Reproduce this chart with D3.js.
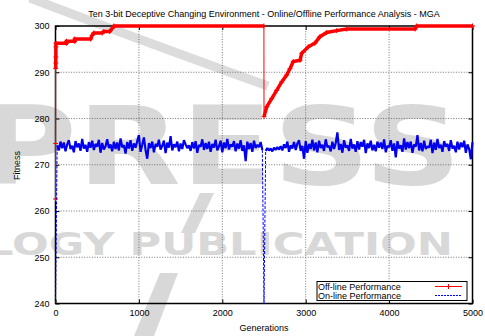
<!DOCTYPE html>
<html>
<head>
<meta charset="utf-8">
<script src="https://cdn.jsdelivr.net/npm/d3@7"></script>
<style>
  body { margin: 0; background: #fff; }
  svg { display: block; font-family: "Liberation Sans", Arial, sans-serif; }
</style>
</head>
<body>
<svg width="485" height="336"></svg>
<script>
// off-line performance (best so far), breakpoints
var offGen = [0, 1, 2, 3, 4, 5, 6, 130, 132, 230, 232, 420, 440, 460, 560, 580, 650, 680, 700, 2499,
  2500, 2532, 2592, 2652, 2712, 2772, 2812, 2851, 2932, 2952, 3031, 3111, 3171, 3252, 3372, 3492, 4311, 4331, 5000];
var offVal = [262.6, 274.6, 290.8, 292.0, 293.3, 295.5, 296.25, 296.25, 296.7, 296.7, 297.2, 297.2, 298.0, 298.5, 298.5, 298.8, 298.8, 299.5, 300, 300,
  280.4, 282.5, 284.3, 286.1, 287.9, 289.4, 290.8, 292.3, 292.6, 294.1, 295.5, 296.3, 297.7, 298.6, 299.0, 299.35, 299.35, 300, 300];

// on-line performance, one value every 20 generations (0 .. 5000)
var onStep = 20;
var onVal = [240,
  274.2, 273.1, 275.0, 273.6, 274.8, 272.9, 274.4, 275.3, 273.4, 274.1,
  272.7, 275.1, 273.8, 274.6, 273.0, 275.6, 273.5, 274.3, 272.8, 274.9,
  273.7, 275.2, 273.2, 274.5, 273.9, 275.4, 272.6, 274.7, 273.3, 274.0,
  275.5, 273.6, 274.4, 272.9, 275.0, 273.4, 274.8, 273.1, 275.7, 273.8,
  274.2, 272.4, 274.9, 273.5, 275.3, 273.0, 274.6, 273.7, 275.1, 276.4,
  272.8, 274.3, 275.9, 273.2, 271.3, 274.7, 273.6, 275.0, 272.7, 274.5,
  273.9, 275.4, 273.3, 274.1, 275.2, 272.5, 274.8, 273.7, 276.2, 273.1,
  274.4, 273.8, 275.0, 272.9, 274.6, 273.4, 275.3, 274.4, 273.6, 274.2,
  273.0, 274.9, 273.5, 275.1, 272.6, 274.3, 273.9, 275.5, 273.2, 274.7,
  273.4, 275.0, 272.8, 274.5, 273.7, 275.4, 273.1, 274.0, 275.2, 272.7,
  274.8, 273.6, 275.6, 273.3, 274.4, 273.9, 275.1, 272.9, 274.6, 273.5,
  275.3, 273.0, 274.2, 270.8, 275.0, 273.4, 274.7, 272.8, 275.2, 273.6,
  274.3, 273.8, 274.9, 273.2,
  240,
  273.0, 273.6, 273.1, 273.5, 272.9, 273.7, 273.2, 273.8, 273.3, 274.0,
  273.1, 274.4, 273.6, 275.0, 272.8, 274.2, 273.5, 274.9, 273.2, 274.6,
  275.3, 273.0, 274.1, 271.3, 275.1, 272.6, 274.5, 273.4, 275.4, 273.1,
  274.8, 272.7, 275.2, 273.6, 274.3, 273.0, 275.5, 273.8, 274.1, 272.9,
  275.0, 273.4, 274.7, 277.0, 273.2, 274.5, 272.6, 275.3, 273.7, 274.2,
  273.0, 275.6, 273.5, 274.4, 272.8, 275.1, 273.3, 274.9, 273.9, 275.4,
  272.5, 274.6, 273.6, 275.2, 273.1, 274.3, 272.9, 275.0, 273.7, 274.8,
  273.4, 275.5, 272.7, 274.1, 273.8, 275.3, 273.0, 274.6, 271.6, 275.1,
  273.5, 274.2, 272.8, 275.7, 273.3, 274.9, 273.6, 275.0, 272.6, 274.4,
  273.9, 276.4, 273.1, 274.7, 272.9, 275.2, 273.4, 274.0, 273.7, 275.4,
  272.5, 274.8, 273.2, 275.6, 273.6, 274.3, 272.8, 275.1, 273.9, 274.5,
  273.0, 275.3, 273.5, 274.1, 272.7, 275.0, 273.3, 274.8, 273.8, 275.2,
  272.6, 274.4, 273.4, 271.2, 274.9];

var xTicks = [0, 1000, 2000, 3000, 4000, 5000];
var yTicks = [240, 250, 260, 270, 280, 290, 300];
var seriesNames = ["Off-line Performance", "On-line Performance"];

var svg = d3.select("svg"),
  plotL = 55.5, plotR = 472.5, plotT = 26, plotB = 303.5;

var x = d3.scaleLinear().domain([0, 5000]).range([plotL, plotR]);
var y = d3.scaleLinear().domain([240, 300]).range([plotB, plotT]);

// faint publisher watermark in the background
var wm = svg.append("g").attr("fill", "#d8d8d8").attr("stroke", "none");
wm.append("path")
  .attr("d", "M30,-2 Q140,40 268,86")
  .attr("fill", "none").attr("stroke", "#dcdcdc").attr("stroke-width", 9);
wm.append("text")
  .attr("transform", "translate(-22,184) scale(1.25,1)")
  .attr("font-family", "DejaVu Sans").attr("font-weight", "bold")
  .attr("font-size", 108)
  .text("PRESS");
wm.append("text")
  .attr("transform", "translate(-14,255) scale(1.35,1)")
  .attr("font-family", "DejaVu Sans").attr("font-weight", "bold")
  .attr("font-size", 32)
  .text("LOGY PUBLICATION");
wm.append("path").attr("d", "M200,193 L214,193 L195,233 L181,233 Z");
wm.append("path").attr("d", "M160,273 L178,273 L154,336 L134,336 Z");

// grid
var grid = svg.append("g")
  .attr("stroke", "#555").attr("stroke-width", 0.8).attr("stroke-dasharray", "1,1.6");
grid.selectAll(".gx").data(xTicks.slice(1, -1)).enter().append("line")
  .attr("x1", function(d) { return x(d) }).attr("x2", function(d) { return x(d) })
  .attr("y1", plotT).attr("y2", plotB);
grid.selectAll(".gy").data(yTicks.slice(1, -1)).enter().append("line")
  .attr("x1", plotL).attr("x2", plotR)
  .attr("y1", function(d) { return y(d) }).attr("y2", function(d) { return y(d) });

// axes with inward ticks, mirrored on top and right
function styleAxis(g) {
  g.select(".domain").remove();
  g.selectAll("text").attr("font-size", 9).attr("fill", "#000").attr("font-family", "Liberation Sans, Arial, sans-serif");
  g.selectAll("line").attr("stroke", "#000");
}
svg.append("g").attr("transform", "translate(" + plotL + ",0)")
  .call(d3.axisLeft(y).tickValues(yTicks).tickSize(-4).tickPadding(6)).call(styleAxis);
svg.append("g").attr("transform", "translate(" + plotR + ",0)")
  .call(d3.axisRight(y).tickValues(yTicks).tickSize(-4).tickFormat("")).call(styleAxis);
svg.append("g").attr("transform", "translate(0," + plotB + ")")
  .call(d3.axisBottom(x).tickValues(xTicks).tickSize(-4).tickPadding(6).tickFormat(d3.format("d"))).call(styleAxis);
svg.append("g").attr("transform", "translate(0," + plotT + ")")
  .call(d3.axisTop(x).tickValues(xTicks).tickSize(-4).tickFormat("")).call(styleAxis);

svg.append("rect")
  .attr("x", plotL).attr("y", plotT)
  .attr("width", plotR - plotL).attr("height", plotB - plotT)
  .attr("fill", "none").attr("stroke", "#000").attr("stroke-width", 1.5);

var line = d3.line().x(function(d) { return x(d[0]) }).y(function(d) { return y(d[1]) });

// split a series at big jumps: smooth runs and the jump segments between them
function splitAtJumps(data, limit) {
  var runs = [], jumps = [], cur = [data[0]];
  for (var i = 1; i < data.length; i++) {
    if (Math.abs(data[i][1] - data[i - 1][1]) > limit) {
      runs.push(cur); cur = [];
      jumps.push([data[i - 1], data[i]]);
    }
    cur.push(data[i]);
  }
  runs.push(cur);
  return { runs: runs.filter(function(r) { return r.length > 1 }), jumps: jumps };
}

// on-line series: dense noisy band, dashed thin jumps
var onData = onVal.map(function(v, i) { return [i * onStep, v] });
var onParts = splitAtJumps(onData, 10);
svg.selectAll(".onrun").data(onParts.runs).enter().append("path")
  .attr("d", line)
  .attr("fill", "none").attr("stroke", "#0000ee").attr("stroke-width", 2.2)
  .attr("stroke-linejoin", "bevel");
svg.selectAll(".onjump").data(onParts.jumps).enter().append("path")
  .attr("d", line)
  .attr("fill", "none").attr("stroke", "#0000ff").attr("stroke-width", 1)
  .attr("stroke-dasharray", "3,1.5");

// off-line series: thin connecting line, thick band over the smooth parts, + markers
var offData = offGen.map(function(g, i) { return [g, offVal[i]] });
svg.append("path")
  .datum(offData)
  .attr("d", line)
  .attr("fill", "none").attr("stroke", "#ff0000").attr("stroke-width", 1);
var offParts = splitAtJumps(offData, 5);
svg.selectAll(".band").data(offParts.runs).enter().append("path")
  .attr("d", line)
  .attr("fill", "none").attr("stroke", "#ff0000").attr("stroke-width", 3.5);

svg.selectAll(".mk").data(offData).enter().append("path")
  .attr("d", "M-2.5,0H2.5M0,-2.5V2.5")
  .attr("transform", function(d) { return "translate(" + x(d[0]) + "," + y(d[1]) + ")" })
  .attr("stroke", "#ff0000").attr("stroke-width", 1);

// title and axis labels
svg.append("text")
  .attr("x", 264).attr("y", 16.5).attr("text-anchor", "middle").attr("font-size", 9)
  .text("Ten 3-bit Deceptive Changing Environment - Online/Offline Performance Analysis - MGA");
svg.append("text")
  .attr("x", 264).attr("y", 331).attr("text-anchor", "middle").attr("font-size", 9)
  .text("Generations");
svg.append("text")
  .attr("transform", "translate(20,165.5) rotate(-90)").attr("text-anchor", "middle").attr("font-size", 9)
  .text("Fitness");

// legend
var lg = svg.append("g");
lg.append("rect")
  .attr("x", 317).attr("y", 281.5).attr("width", 150).attr("height", 19)
  .attr("fill", "#fff").attr("stroke", "#000").attr("stroke-width", 1);
lg.selectAll("text").data(seriesNames).enter().append("text")
  .attr("x", 318).attr("y", function(d, i) { return 290 + i * 9 })
  .attr("font-size", 9)
  .text(function(d) { return d });
lg.append("line").attr("x1", 435).attr("x2", 462).attr("y1", 286.5).attr("y2", 286.5)
  .attr("stroke", "#ff0000").attr("stroke-width", 1);
lg.append("path").attr("d", "M446,286.5h5M448.5,284v5").attr("stroke", "#ff0000");
lg.append("line").attr("x1", 435).attr("x2", 462).attr("y1", 295.5).attr("y2", 295.5)
  .attr("stroke", "#0000ff").attr("stroke-width", 1).attr("stroke-dasharray", "2,1");
</script>
</body>
</html>
